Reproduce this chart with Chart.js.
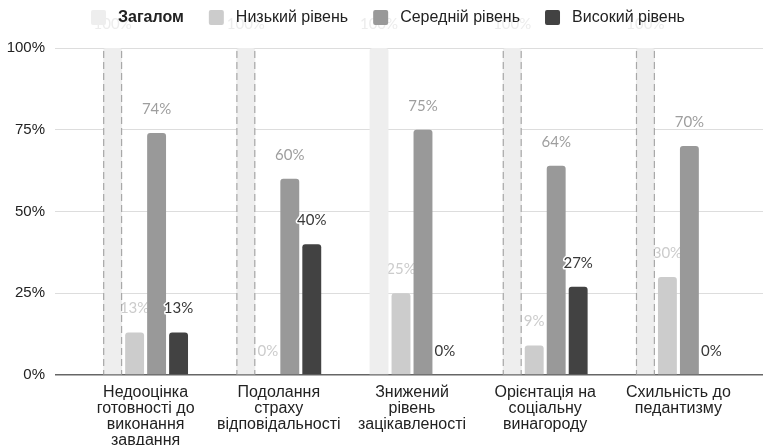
<!DOCTYPE html>
<html>
<head>
<meta charset="utf-8">
<script src="https://cdn.jsdelivr.net/npm/chart.js@4/dist/chart.umd.min.js"></script>
<style>
  html, body { margin: 0; padding: 0; background: #fff; }
  #wrap { width: 763px; height: 445px; }
</style>
</head>
<body>
<div id="wrap"><canvas id="c" width="763" height="445"></canvas></div>
<script>
// Category labels (multi-line)
const categories = [
  ['Недооцінка', 'готовності до', 'виконання', 'завдання'],
  ['Подолання', 'страху', 'відповідальності'],
  ['Знижений', 'рівень', 'зацікавленості'],
  ['Орієнтація на', 'соціальну', 'винагороду'],
  ['Схильність до', 'педантизму']
];
const seriesNames = ['Загалом', 'Низький рівень', 'Середній рівень', 'Високий рівень'];
const totalValues = [100, 100, 100, 100, 100];
const lowValues = [13, 0, 25, 9, 30];
const midValues = [74, 60, 75, 64, 70];
const highValues = [13, 40, 0, 27, 0];
const yTickValues = [0, 25, 50, 75, 100];

const FONT = '"Liberation Sans", Arial, sans-serif';
const LABEL_FONT = '15px Lato, "Open Sans", sans-serif';

// Value labels above each bar; the low series sits behind the bars
function drawValueLabels(chart, behind) {
  const ctx = chart.ctx;
  ctx.save();
  ctx.font = LABEL_FONT;
  ctx.textAlign = 'center';
  ctx.textBaseline = 'middle';
  ctx.lineJoin = 'round';
  chart.data.datasets.forEach((ds, i) => {
    if (!!ds.labelsBehind !== behind) return;
    const meta = chart.getDatasetMeta(i);
    meta.data.forEach((el, j) => {
      const text = ds.data[j] + '%';
      const y = el.y - 24;
      if (ds.labelHalo) {
        ctx.lineWidth = 3;
        ctx.strokeStyle = '#ffffff';
        ctx.strokeText(text, el.x, y);
      }
      ctx.fillStyle = ds.labelColor;
      ctx.fillText(text, el.x, y);
    });
  });
  ctx.restore();
}

// Dashed side outlines on the overall bars
function drawDashedSides(chart) {
  const ctx = chart.ctx;
  chart.data.datasets.forEach((ds, i) => {
    if (!ds.dashedSides) return;
    const meta = chart.getDatasetMeta(i);
    meta.data.forEach((el, j) => {
      if (!ds.dashedSides[j]) return;
      const half = el.width / 2;
      ctx.save();
      ctx.strokeStyle = '#a8a8a8';
      ctx.lineWidth = 1.2;
      ctx.setLineDash([7, 4]);
      [el.x - half + 0.5, el.x + half - 0.5].forEach(px => {
        ctx.beginPath();
        ctx.moveTo(px, el.y + 3);
        ctx.lineTo(px, el.base);
        ctx.stroke();
      });
      ctx.restore();
    });
  });
}

const barExtras = {
  id: 'barExtras',
  beforeDatasetsDraw(chart) { drawValueLabels(chart, true); },
  afterDatasetsDraw(chart) {
    drawDashedSides(chart);
    drawValueLabels(chart, false);
  }
};

// Legend row across the top
const legendRow = {
  id: 'legendRow',
  afterDraw(chart) {
    const ctx = chart.ctx;
    const y = 17;
    let x = chart.chartArea.left + 12;
    ctx.save();
    ctx.textBaseline = 'middle';
    ctx.textAlign = 'left';
    chart.data.datasets.forEach((ds, i) => {
      ctx.fillStyle = ds.backgroundColor;
      ctx.beginPath();
      ctx.roundRect(x, y - 7, 15, 15, 2);
      ctx.fill();
      x += 15 + 12;
      ctx.font = (i === 0 ? 'bold ' : '') + '16px ' + FONT;
      ctx.fillStyle = '#222222';
      ctx.fillText(ds.label, x, y + 1);
      x += ctx.measureText(ds.label).width + 25;
    });
    ctx.restore();
  }
};

const gridColor = c => (c.tick && c.tick.value === 0 ? '#666666' : '#dddddd');
const gridWidth = c => (c.tick && c.tick.value === 0 ? 1.5 : 1);

new Chart(document.getElementById('c'), {
  type: 'bar',
  data: {
    labels: categories,
    datasets: [
      {
        label: seriesNames[0], data: totalValues,
        backgroundColor: '#eeeeee', labelColor: '#ececec',
        dashedSides: [true, true, false, true, true]
      },
      {
        label: seriesNames[1], data: lowValues,
        backgroundColor: '#cccccc', labelColor: '#cccccc', labelsBehind: true
      },
      {
        label: seriesNames[2], data: midValues,
        backgroundColor: '#999999', labelColor: '#9e9e9e', labelHalo: true
      },
      {
        label: seriesNames[3], data: highValues,
        backgroundColor: '#424242', labelColor: '#383838', labelHalo: true
      }
    ]
  },
  options: {
    responsive: false,
    animation: false,
    devicePixelRatio: 1,
    layout: { padding: { top: 48, left: 0, right: 0, bottom: 0 } },
    datasets: {
      bar: {
        categoryPercentage: 0.66,
        barPercentage: 0.86,
        borderRadius: 3,
        borderWidth: 0
      }
    },
    plugins: {
      legend: { display: false },
      tooltip: { enabled: false }
    },
    scales: {
      x: {
        grid: { display: false, drawTicks: false },
        border: { display: false },
        ticks: {
          color: '#222222',
          font: { family: FONT, size: 16, lineHeight: 1 },
          padding: 10,
          maxRotation: 0,
          autoSkip: false
        },
        afterFit(scale) { scale.height = 70; }
      },
      y: {
        min: 0, max: 100,
        afterBuildTicks(scale) { scale.ticks = yTickValues.map(v => ({ value: v })); },
        grid: { color: gridColor, lineWidth: gridWidth, tickLength: 24 },
        border: { display: false },
        ticks: {
          color: '#222222',
          font: { family: FONT, size: 15 },
          padding: 10,
          callback: v => v + '%'
        },
        afterFit(scale) { scale.width = 79; }
      },
      y2: {
        position: 'right',
        min: 0, max: 100,
        afterBuildTicks(scale) { scale.ticks = yTickValues.map(v => ({ value: v })); },
        grid: { color: gridColor, lineWidth: gridWidth, tickLength: 18, drawOnChartArea: false },
        border: { display: false },
        ticks: { display: false },
        afterFit(scale) { scale.width = 18; }
      }
    }
  },
  plugins: [barExtras, legendRow]
});
</script>
</body>
</html>
